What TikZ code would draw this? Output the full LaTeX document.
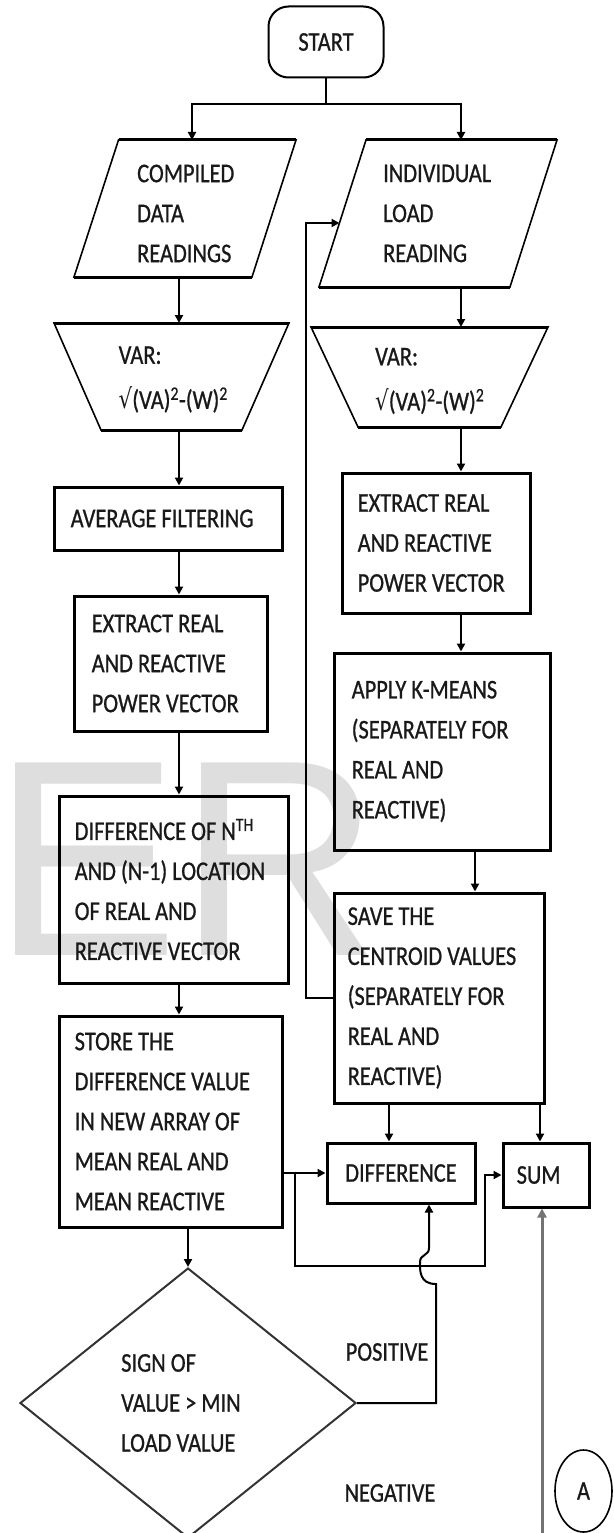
\documentclass[tikz,border=0pt]{standalone}
\usepackage{fontspec}
\setmainfont{Carlito}
\newfontfamily\ffont[FakeStretch=0.83,FakeBold=0.8]{Carlito}
\newfontfamily\symf[FakeStretch=0.79]{DejaVu Sans}
\newfontfamily\wmfont{Liberation Sans}
\usetikzlibrary{arrows.meta,shapes.geometric,positioning}

\begin{document}
\begin{tikzpicture}[x=1pt,y=-1pt,
  tf/.style={font=\ffont\fontsize{27}{40}\selectfont, text=black!90},
  txt/.style={tf, align=left, inner sep=0pt, anchor=west},
  box/.style={draw, line width=3pt, rectangle, inner sep=0pt},
  slant/.style={line width=1.6pt},
  edge/.style={line width=3pt},
  flow/.style={line width=2pt},
  arr/.style={line width=2pt, -{Triangle[length=8pt,width=8pt]}},
]
\useasboundingbox (0,0) rectangle (613,1533);
\clip (0,0) rectangle (613,1533);

% watermark letters behind the chart
\node[anchor=base west, inner sep=0pt, text=black!13,
      font=\wmfont\fontsize{280}{280}\selectfont] (wm) at (-8,955) {ER};

% terminal
\node[draw, line width=2pt, rounded corners=20pt, minimum width=115pt,
      minimum height=71pt, inner sep=0pt, tf] (start) at (326,42) {START};

% input: compiled data readings
\coordinate (cdIn) at (192,140);
\coordinate (cdOut) at (179,277);
\draw[slant] (118.5,140) -- (296,140) -- (252,277) -- (74,277) -- cycle;
\draw[edge] (118.5,140) -- (296,140) (252,277) -- (74,277);
\node[txt] (cdText) at (137,213.5) {COMPILED\\DATA\\READINGS};

% input: individual load reading
\coordinate (ilIn) at (461,140);
\coordinate (ilOut) at (461,287);
\coordinate (ilFb) at (339.5,223);
\draw[slant] (366,140) -- (557,140) -- (510,287) -- (319,287) -- cycle;
\draw[edge] (366,140) -- (557,140) (510,287) -- (319,287);
\node[txt] (ilText) at (383,213.5) {INDIVIDUAL\\LOAD\\READING};

% manual operations: VAR
\coordinate (vlIn) at (179,323);
\coordinate (vlOut) at (179,430);
\draw[slant] (54,323) -- (289,323) -- (242,430) -- (101,430) -- cycle;
\draw[edge] (54,323) -- (289,323) (242,430) -- (101,430);
\node[txt] (vlText) at (118.5,379.5)
  {VAR:\\[5pt]{\symf √}(VA)\textsuperscript{2}-(W)\textsuperscript{2}};

\coordinate (vrIn) at (461,327);
\coordinate (vrOut) at (461,427);
\draw[slant] (311,327) -- (548,327) -- (501,427) -- (358,427) -- cycle;
\draw[edge] (311,327) -- (548,327) (501,427) -- (358,427);
\node[txt] (vrText) at (375,381)
  {VAR:\\[5pt]{\symf √}(VA)\textsuperscript{2}-(W)\textsuperscript{2}};

% left column processes
\node[box, minimum width=228pt, minimum height=63pt] (avg) at (168,518.5) {};
\node[txt, right=18pt of avg.west] (avgText) {AVERAGE FILTERING};

\node[box, minimum width=193pt, minimum height=135pt] (exL) at (170.5,663.5) {};
\node[txt, right=19pt of exL.west] (exLText) {EXTRACT REAL\\AND REACTIVE\\POWER VECTOR};

\node[box, minimum width=229pt, minimum height=187pt] (diffL) at (173.5,889.5) {};
\node[txt, right=17pt of diffL.west] (diffLText)
  {DIFFERENCE OF N\textsuperscript{TH}\\AND (N-1) LOCATION\\OF REAL AND\\REACTIVE VECTOR};

\node[box, minimum width=223pt, minimum height=211pt] (store) at (170.5,1121.5) {};
\node[txt, right=17pt of store.west] (storeText)
  {STORE THE\\DIFFERENCE VALUE\\IN NEW ARRAY OF\\MEAN REAL AND\\MEAN REACTIVE};

% right column processes
\node[box, minimum width=188pt, minimum height=140pt] (exR) at (436,543) {};
\node[txt, right=17pt of exR.west] (exRText) {EXTRACT REAL\\AND REACTIVE\\POWER VECTOR};

\node[box, minimum width=216pt, minimum height=197pt] (km) at (442,751.5) {};
\node[txt, right=19pt of km.west] (kmText)
  {APPLY K-MEANS\\(SEPARATELY FOR\\REAL AND\\REACTIVE)};

\node[box, minimum width=210pt, minimum height=210pt] (save) at (439,998) {};
\node[txt, right=15pt of save.west] (saveText)
  {SAVE THE\\CENTROID VALUES\\(SEPARATELY FOR\\REAL AND\\REACTIVE)};

\node[box, minimum width=148pt, minimum height=60pt, tf] (diffR) at (401,1173) {DIFFERENCE};
\node[box, minimum width=86pt, minimum height=64pt] (sum) at (546,1175) {};
\node[txt, right=15pt of sum.west] (sumText) {SUM};

% decision
\node[draw=black!80, diamond, line width=2pt, minimum width=336pt,
      minimum height=270pt, inner sep=0pt] (dec) at (188,1403) {};
\node[txt] (decText) at (121,1403) {SIGN OF\\VALUE > MIN\\LOAD VALUE};

\node[tf, inner sep=0pt] (pos) at (387,1352) {POSITIVE};
\node[tf, inner sep=0pt] (neg) at (390,1493) {NEGATIVE};

% connector A
\node[draw, ellipse, line width=1.6pt, minimum width=57pt, minimum height=82pt,
      inner sep=0pt, tf] (conA) at (583.5,1491) {A};

% flow lines
\coordinate (split) at (326,104);
\draw[flow] (start.south) -- (split);
\draw[arr] (split) -| (cdIn);
\draw[arr] (split) -| (ilIn);

\draw[arr] (cdOut) -- (vlIn);
\draw[arr] (vlOut) -- (vlOut |- avg.north);
\draw[arr] (vlOut |- avg.south) -- (vlOut |- exL.north);
\draw[arr] (vlOut |- exL.south) -- (vlOut |- diffL.north);
\draw[arr] (vlOut |- diffL.south) -- (vlOut |- store.north);
\draw[arr] (dec.north |- store.south) -- (dec.north);

\draw[arr] (ilOut) -- (vrIn);
\draw[arr] (vrOut) -- (vrOut |- exR.north);
\draw[arr] (vrOut |- exR.south) -- (vrOut |- km.north);
\coordinate (kx) at (475,0);
\draw[arr] (kx |- km.south) -- (kx |- save.north);
\coordinate (sx1) at (389,0);
\coordinate (sx2) at (540,0);
\draw[arr] (sx1 |- save.south) -- (sx1 |- diffR.north);
\draw[arr] (sx2 |- save.south) -- (sx2 |- sum.north);

% feedback to the next load reading
\coordinate (fb) at (306,0);
\draw[arr] (save.west) -- (fb |- save.west) -- (fb |- ilFb) -- (ilFb);

% stored values into difference and sum
\coordinate (j1) at (295,1173);
\coordinate (j2) at (485,1266);
\draw[arr] (store.east |- j1) -- (diffR.west);
\draw[arr] (j1) |- (j2) |- (sum.west);

% positive branch, hopping over the loop line
\coordinate (pr) at (436,1284);
\coordinate (dx) at (429,0);
\draw[arr] (dec.east) -| (pr)
  .. controls (419,1284) and (420,1270) .. (420,1262)
  .. controls (420,1254) and (429,1256) .. (429,1248)
  -- (dx |- diffR.south);

% return from connector A
\coordinate (gA) at (542,1545);
\draw[line width=3pt, black!55, -{Triangle[length=9pt,width=9pt]}] (gA) -- (gA |- sum.south);
\end{tikzpicture}
\end{document}
